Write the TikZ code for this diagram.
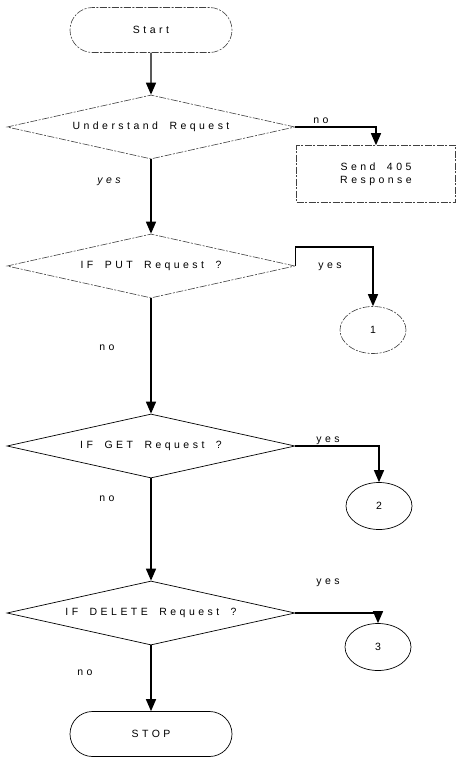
\documentclass[tikz,border=0pt]{standalone}
\usepackage{fontspec}
\setmainfont{Liberation Sans}[LetterSpace=33, WordSpace=1.8]
\usetikzlibrary{shapes.geometric,shapes.misc,arrows.meta}
\begin{document}
\begin{tikzpicture}[x=1pt,y=-1pt,
  every node/.style={font=\fontsize{10.5}{13}\selectfont, inner sep=0pt},
  faded/.style={draw=black!75, line width=0.6pt, dash pattern=on 7pt off 1.5pt on 2pt off 1.5pt},
  solidln/.style={draw=black, line width=0.7pt},
  term/.style={rounded rectangle, minimum width=162pt, minimum height=45pt},
  dec/.style={diamond, minimum width=288pt, minimum height=64pt, aspect=4.4},
  conn/.style={ellipse, minimum width=66pt, minimum height=47pt},
  procbox/.style={rectangle, minimum width=159pt, minimum height=57pt, align=center},
  lbl/.style={font=\fontsize{10.5}{13}\selectfont},
  arr/.style={draw=black, line width=1.4pt, -{Triangle[width=10pt,length=12pt]}}
]
\useasboundingbox (0,0) rectangle (456,758);

\node[term, faded] (start) at (151,30) {Start};
\node[dec, faded] (d1) at (151,127) {Understand Request};
\node[procbox, faded] (box) at (376,174) {Send 405\\Response};
\node[dec, faded] (d2) at (151,266) {IF PUT Request ?};
\node[conn, faded] (c1) at (373,330) {1};
\node[dec, solidln] (d3) at (151,446) {IF GET Request ?};
\node[conn, solidln] (c2) at (379,506) {2};
\node[dec, solidln] (d4) at (151,613) {IF DELETE Request ?};
\node[conn, solidln] (c3) at (378,647) {3};
\node[term, solidln] (stop) at (151,734) {STOP};

\node[lbl] (lno1) at (321,121) {no};
\node[lbl, font=\fontsize{10.5}{13}\selectfont\itshape] (lyes1) at (109,182) {yes};
\node[lbl] (lyes2) at (330,267) {yes};
\node[lbl] (lno2) at (107,348) {no};
\node[lbl] (lyes3) at (328,441) {yes};
\node[lbl] (lno3) at (107,499) {no};
\node[lbl] (lyes4) at (328,583) {yes};
\node[lbl] (lno4) at (85,673) {no};

\coordinate (k2) at ([yshift=19pt]d2.east);

\draw[arr] (start) -- (d1);
\draw[arr] (d1.east) -| (box.north);
\draw[arr] (d1) -- (d2);
\draw[arr] (d2.east) -- (k2) -| (c1.north);
\draw[arr] (d2) -- (d3);
\draw[arr] (d3.east) -| (c2.north);
\draw[arr] (d3) -- (d4);
\draw[arr] (d4.east) -| (c3.north);
\draw[arr] (d4) -- (stop);
\end{tikzpicture}
\end{document}
